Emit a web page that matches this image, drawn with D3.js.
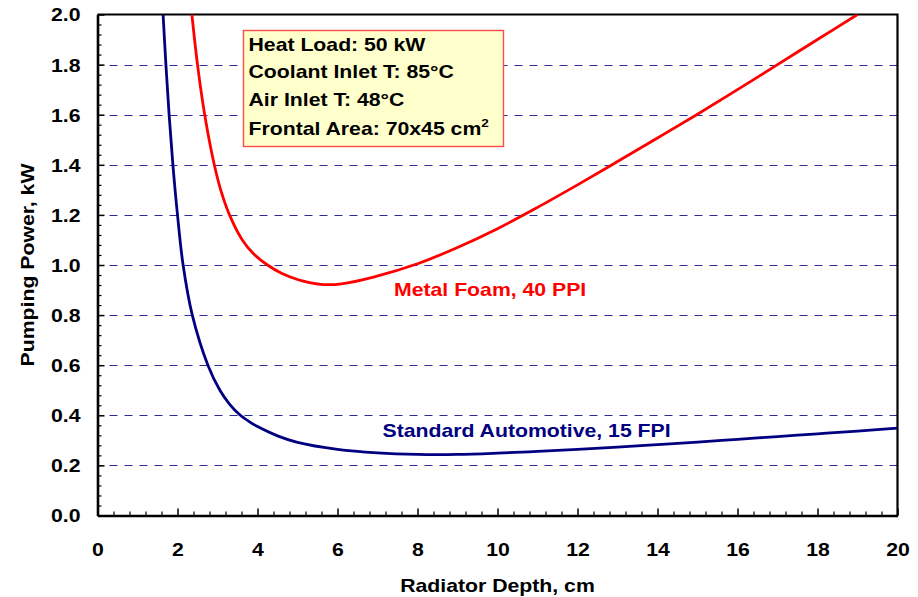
<!DOCTYPE html>
<html>
<head>
<meta charset="utf-8">
<script src="https://cdn.jsdelivr.net/npm/d3@7"></script>
<style>
  html, body { margin: 0; padding: 0; background: #fff; }
  svg { display: block; }
  text { font-family: "Liberation Sans", Arial, sans-serif; font-weight: bold; }
</style>
</head>
<body>
<svg id="chart" width="918" height="597"></svg>
<script>
// ---------- data ----------
const xTicks = [0, 2, 4, 6, 8, 10, 12, 14, 16, 18, 20];
const yTicks = [0.0, 0.2, 0.4, 0.6, 0.8, 1.0, 1.2, 1.4, 1.6, 1.8, 2.0];
const gridValues = [0.2, 0.4, 0.6, 0.8, 1.0, 1.2, 1.4, 1.6, 1.8];

// Standard Automotive, 15 FPI
const stdDepth = [1.64, 1.71, 1.79, 1.885, 2.0, 2.14, 2.37, 2.76, 3.06, 3.3, 3.55, 3.8, 4, 4.5, 5, 6, 7, 8, 9, 10, 11, 12, 13, 14, 15, 16, 17, 18, 19, 20];
const stdPower = [2.0, 1.8, 1.6, 1.4, 1.2, 1.0, 0.8, 0.6, 0.5, 0.445, 0.403, 0.374, 0.355, 0.318, 0.292, 0.264, 0.25, 0.244, 0.244, 0.249, 0.256, 0.264, 0.273, 0.283, 0.293, 0.304, 0.315, 0.326, 0.337, 0.349];

// Metal Foam, 40 PPI
const foamDepth = [2.36, 2.5, 2.68, 2.92, 3.08, 3.3, 3.62, 3.9, 4.25, 4.6, 5.0, 5.3, 5.66, 6.1, 6.9, 8, 9, 10, 11, 12, 13, 14, 15, 16, 17, 18, 19];
const foamPower = [2.0, 1.8, 1.6, 1.4, 1.3, 1.2, 1.1, 1.045, 1.0, 0.967, 0.942, 0.93, 0.922, 0.925, 0.952, 1.005, 1.07, 1.145, 1.23, 1.32, 1.413, 1.507, 1.602, 1.70, 1.80, 1.90, 2.0];

const boxLines = ["Heat Load: 50 kW", "Coolant Inlet T: 85°C", "Air Inlet T: 48°C", "Frontal Area: 70x45 cm"];
const xTitle = "Radiator Depth, cm";
const yTitle = "Pumping Power, kW";
const foamLabel = "Metal Foam, 40 PPI";
const stdLabel = "Standard Automotive, 15 FPI";

// ---------- layout ----------
const SX = 1.18;        // horizontal stretch of the original lettering
const FS = 18;
const L = 97.5, R = 897.5, T = 14.5, B = 515.5;

const svg = d3.select("#chart");
const x = d3.scaleLinear().domain([0, 20]).range([L, R]);
const y = d3.scaleLinear().domain([0, 2]).range([B, T]);

svg.append("defs").append("clipPath").attr("id", "plotclip")
  .append("rect").attr("x", L).attr("y", T).attr("width", R - L).attr("height", B - T);

// gridlines (dashed, drawn from right to left)
svg.append("g").selectAll("line").data(gridValues).join("line")
  .attr("x1", x(20)).attr("x2", x(0))
  .attr("y1", d => Math.round(y(d)) + 0.5).attr("y2", d => Math.round(y(d)) + 0.5)
  .attr("stroke", "#2b2b9a")
  .attr("stroke-width", 1).attr("stroke-dasharray", "8,7");

// frame top/right
svg.append("path")
  .attr("d", `M${L},${T}H${R}V${B}`)
  .attr("fill", "none").attr("stroke", "#000").attr("stroke-width", 2.2);

// curves
const line = d3.line().x(d => x(d[0])).y(d => y(d[1])).curve(d3.curveCatmullRom.alpha(0.5));
const gCurves = svg.append("g").attr("clip-path", "url(#plotclip)");
gCurves.append("path")
  .datum(stdDepth.map((d, i) => [d, stdPower[i]]))
  .attr("d", line).attr("fill", "none").attr("stroke", "#000080").attr("stroke-width", 2.8);
gCurves.append("path")
  .datum(foamDepth.map((d, i) => [d, foamPower[i]]))
  .attr("d", line).attr("fill", "none").attr("stroke", "#ff0000").attr("stroke-width", 2.8);

// minor ticks
const xMinor = d3.range(0, 20.001, 0.4).filter(v => Math.abs(v / 2 - Math.round(v / 2)) > 1e-6);
const yMinor = d3.range(0, 2.0001, 0.04).filter(v => Math.abs(v / 0.2 - Math.round(v / 0.2)) > 1e-6);
svg.append("g").attr("transform", `translate(0,${B})`)
  .call(d3.axisBottom(x).tickValues(xMinor).tickSizeInner(-4).tickSizeOuter(0).tickFormat(""))
  .call(g => g.select(".domain").remove())
  .selectAll("line").attr("stroke", "#000").attr("stroke-width", 1.2);
svg.append("g").attr("transform", `translate(${L},0)`)
  .call(d3.axisLeft(y).tickValues(yMinor).tickSizeInner(-4).tickSizeOuter(0).tickFormat(""))
  .call(g => g.select(".domain").remove())
  .selectAll("line").attr("stroke", "#000").attr("stroke-width", 1.2);

// major axes
const gx = svg.append("g").attr("transform", `translate(0,${B})`)
  .call(d3.axisBottom(x).tickValues(xTicks).tickSizeInner(-7).tickSizeOuter(0).tickFormat(d3.format("d")));
gx.select(".domain").attr("stroke", "#000").attr("stroke-width", 2.6);
gx.selectAll(".tick line").attr("stroke", "#000").attr("stroke-width", 1.5);
gx.selectAll(".tick text")
  .attr("y", 40.5).attr("dy", null)
  .attr("transform", `scale(${SX},1)`)
  .attr("font-size", FS).attr("fill", "#000")
  .attr("font-family", '"Liberation Sans", Arial, sans-serif').attr("font-weight", "bold");

const gy = svg.append("g").attr("transform", `translate(${L},0)`)
  .call(d3.axisLeft(y).tickValues(yTicks).tickSizeInner(-7).tickSizeOuter(0).tickFormat(d3.format(".1f")));
gy.select(".domain").attr("stroke", "#000").attr("stroke-width", 2.6);
gy.selectAll(".tick line").attr("stroke", "#000").attr("stroke-width", 1.5);
gy.selectAll(".tick text")
  .attr("x", -17 / SX).attr("dy", "0.36em")
  .attr("transform", `scale(${SX},1)`)
  .attr("font-size", FS).attr("fill", "#000")
  .attr("font-family", '"Liberation Sans", Arial, sans-serif').attr("font-weight", "bold");

// axis titles
svg.append("text")
  .attr("transform", `translate(${(L + R) / 2},591.5) scale(${SX},1)`)
  .attr("text-anchor", "middle").attr("font-size", FS).attr("fill", "#000")
  .text(xTitle);
svg.append("text")
  .attr("transform", `translate(34,${(T + B) / 2}) rotate(-90) scale(${SX},1)`)
  .attr("text-anchor", "middle").attr("font-size", FS).attr("fill", "#000")
  .text(yTitle);

// series labels
svg.append("text")
  .attr("transform", `translate(394,296) scale(${SX},1)`)
  .attr("font-size", FS).attr("fill", "#ff0000").text(foamLabel);
svg.append("text")
  .attr("transform", `translate(382.5,436.5) scale(${SX},1)`)
  .attr("font-size", FS).attr("fill", "#000080").text(stdLabel);

// annotation box
svg.append("rect")
  .attr("x", 243.5).attr("y", 30.5).attr("width", 260).attr("height", 116)
  .attr("fill", "#ffffcc").attr("stroke", "#ff4a4a").attr("stroke-width", 1.4);
const baselines = [51, 78.3, 106, 135];
boxLines.forEach((s, i) => {
  const t = svg.append("text")
    .attr("transform", `translate(248.5,${baselines[i]}) scale(${SX},1)`)
    .attr("font-size", 18).attr("fill", "#000")
    .text(s);
  if (i === 3) {
    t.append("tspan").attr("font-size", 11.5).attr("dy", -8).text("2");
  }
});
</script>
</body>
</html>
